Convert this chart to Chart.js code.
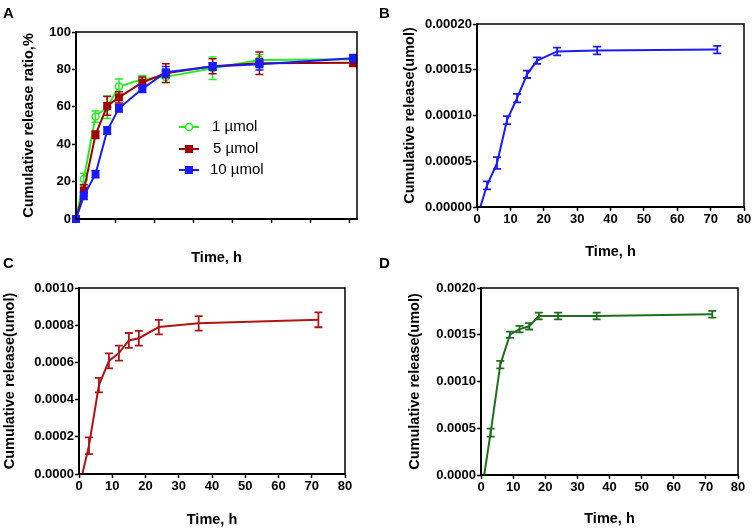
<!DOCTYPE html>
<html>
<head>
<meta charset="utf-8">
<script src="https://cdn.jsdelivr.net/npm/chart.js@4.4.1/dist/chart.umd.min.js"></script>
<style>
  html, body { margin: 0; padding: 0; background: #fff; }
  #fig { position: relative; width: 753px; height: 529px; overflow: hidden; font-family: "Liberation Sans", Arial, sans-serif; }
  .pane { position: absolute; }
  .tag { position: absolute; font-weight: bold; font-size: 15px; line-height: 15px; color: #000; z-index: 2; }
</style>
</head>
<body>
<div id="fig">
  <div class="pane" style="left:0;top:0;width:376px;height:264px"><canvas id="cA"></canvas></div>
  <div class="pane" style="left:376px;top:0;width:377px;height:264px"><canvas id="cB"></canvas></div>
  <div class="pane" style="left:0;top:264px;width:376px;height:265px"><canvas id="cC"></canvas></div>
  <div class="pane" style="left:376px;top:264px;width:377px;height:265px"><canvas id="cD"></canvas></div>
  <div class="tag" style="left:3px;top:5px">A</div>
  <div class="tag" style="left:379px;top:5px">B</div>
  <div class="tag" style="left:3px;top:255px">C</div>
  <div class="tag" style="left:379px;top:255px">D</div>
</div>
<script>
// --- panel A: release ratio (%) for three doses
const timeA = [0, 2, 5, 8, 11, 17, 23, 35, 47, 71];
const ratio1 = [0, 21.4, 54.8, 59.8, 70.8, 74.7, 76, 80.6, 85, 85.4];
const ratio1Err = [0, 3, 3, 6, 4, 2, 3, 6, 3, 2];
const ratio5 = [0, 15.3, 45, 60.5, 65, 73, 78, 81.7, 83.3, 83.6];
const ratio5Err = [0, 3, 2, 5, 3, 3, 5, 4, 6, 2];
const ratio10 = [0, 12.4, 24, 47.3, 59.2, 69.6, 78.5, 81.5, 82.7, 86];
const ratio10Err = [0, 2, 2, 2, 2, 2, 3, 2, 3, 2];
const legendA = ['1 µmol', '5 µmol', '10 µmol'];
const ticksA = [0, 20, 40, 60, 80, 100];

// --- panels B, C, D: cumulative release (umol)
const timeR = [1, 3, 6, 9, 12, 15, 18, 24, 36, 72];
const releaseB = [0, 0.0000237, 0.000048, 0.000095, 0.000119, 0.000145, 0.00016, 0.00017, 0.000171, 0.000172];
const releaseBErr = [0, 0.0000044, 0.0000064, 0.0000044, 0.0000046, 0.000004, 0.0000036, 0.0000042, 0.0000042, 0.0000042];
const releaseC = [0, 0.000152, 0.000478, 0.000608, 0.00065, 0.000718, 0.00073, 0.00079, 0.00081, 0.000829];
const releaseCErr = [0, 0.000045, 0.000039, 0.00004, 0.00004, 0.00004, 0.00004, 0.000039, 0.000039, 0.00004];
const releaseD = [0, 0.000454, 0.00118, 0.0015, 0.00156, 0.00159, 0.0017, 0.0017, 0.0017, 0.00172];
const releaseDErr = [0, 0.000043, 0.00004, 0.000034, 0.000034, 0.000034, 0.000036, 0.000036, 0.000036, 0.000036];
const ticksX = [0, 10, 20, 30, 40, 50, 60, 70, 80];

const FONT = '"Liberation Sans", Arial, sans-serif';
Chart.defaults.font.family = FONT;
Chart.defaults.color = '#000';

const pts = (xs, ys) => xs.map((x, i) => ({ x, y: ys[i] }));

// error bars drawn right after each dataset
const errorBars = {
  id: 'errorBars',
  afterDatasetDraw(chart, args) {
    const ds = chart.data.datasets[args.index];
    if (!ds.errors) return;
    const { ctx, scales: { x, y } } = chart;
    ctx.save();
    ctx.strokeStyle = ds.borderColor;
    ctx.lineWidth = ds.errWidth || 1.5;
    ds.data.forEach((p, i) => {
      const e = ds.errors[i];
      if (!e) return;
      const px = x.getPixelForValue(p.x);
      const top = y.getPixelForValue(p.y + e), bot = y.getPixelForValue(p.y - e);
      const c = ds.cap || 3;
      ctx.beginPath();
      ctx.moveTo(px, top); ctx.lineTo(px, bot);
      ctx.moveTo(px - c, top); ctx.lineTo(px + c, top);
      ctx.moveTo(px - c, bot); ctx.lineTo(px + c, bot);
      ctx.stroke();
    });
    ctx.restore();
  }
};

// closed frame round the plot area
const frame = {
  id: 'frame',
  afterDraw(chart) {
    const { ctx, chartArea: a } = chart;
    ctx.save();
    ctx.strokeStyle = '#000';
    ctx.lineWidth = 1.5;
    ctx.strokeRect(a.left, a.top, a.right - a.left, a.bottom - a.top);
    ctx.restore();
  }
};

// legend inside panel A
const legendInside = {
  id: 'legendInside',
  afterDraw(chart, args, o) {
    if (!o.rows) return;
    const { ctx } = chart;
    ctx.save();
    o.labels.forEach((lab, i) => {
      const ds = chart.data.datasets[i];
      const yy = o.rows[i];
      ctx.strokeStyle = ds.borderColor;
      ctx.lineWidth = 2;
      ctx.beginPath(); ctx.moveTo(o.x1, yy); ctx.lineTo(o.x2, yy); ctx.stroke();
      const mx = (o.x1 + o.x2) / 2;
      if (ds.pointStyle === 'circle') {
        ctx.beginPath(); ctx.arc(mx, yy, 3.5, 0, Math.PI * 2);
        ctx.fillStyle = '#fff'; ctx.fill(); ctx.lineWidth = 1.5; ctx.stroke();
      } else {
        ctx.fillStyle = ds.borderColor; ctx.fillRect(mx - 4, yy - 4, 8, 8);
      }
      ctx.fillStyle = '#000';
      ctx.font = '15px ' + FONT;
      ctx.textBaseline = 'middle';
      ctx.fillText(lab, o.tx[i], yy);
    });
    ctx.restore();
  }
};

function xAxis(opt) {
  return {
    type: 'linear', min: 0, max: opt.max,
    afterBuildTicks: s => { s.ticks = opt.ticks.map(v => ({ value: v })); },
    afterFit: s => { s.height = opt.h; },
    border: { display: true, color: '#000', width: 2 },
    grid: { display: true, drawOnChartArea: false, drawTicks: true, tickLength: 4, tickColor: '#000', tickWidth: 1.5 },
    ticks: { display: opt.labels, padding: 1, font: { size: 13, weight: 'bold' }, color: '#000', maxRotation: 0, autoSkip: false },
    title: { display: true, text: 'Time, h', font: { size: 14.5, weight: 'bold' }, color: '#000', padding: { top: 0, bottom: opt.tb } }
  };
}

function yAxis(opt) {
  return {
    min: 0, max: opt.max,
    afterBuildTicks: s => { s.ticks = opt.ticks.map(v => ({ value: v })); },
    afterFit: s => { s.width = opt.w; },
    border: { display: true, color: '#000', width: 2 },
    grid: { display: true, drawOnChartArea: false, drawTicks: true, tickLength: 4, tickColor: '#000', tickWidth: 1.5 },
    ticks: { padding: 1, font: { size: 13, weight: 'bold' }, color: '#000', callback: opt.fmt, autoSkip: false },
    title: { display: true, text: opt.title, font: { size: 14.5, weight: 'bold' }, color: '#000', padding: { top: opt.tp, bottom: 0 } }
  };
}

function baseOptions(pad, x, y, legend) {
  return {
    responsive: true, maintainAspectRatio: false, animation: false,
    layout: { padding: pad },
    plugins: { legend: { display: false }, tooltip: { enabled: false }, legendInside: legend || {} },
    scales: { x, y }
  };
}

// A
new Chart(document.getElementById('cA'), {
  type: 'line',
  data: {
    datasets: [
      { label: legendA[0], data: pts(timeA, ratio1), errors: ratio1Err, borderColor: '#22ee22', backgroundColor: '#fff',
        borderWidth: 2, pointStyle: 'circle', pointRadius: 3.5, pointBorderWidth: 1.5, tension: 0, clip: false, order: 3, cap: 4 },
      { label: legendA[1], data: pts(timeA, ratio5), errors: ratio5Err, borderColor: '#a00000', backgroundColor: '#a00000',
        borderWidth: 2, pointStyle: 'rect', pointRadius: 5.6, pointBorderWidth: 0, tension: 0, clip: false, order: 2, cap: 4 },
      { label: legendA[2], data: pts(timeA, ratio10), errors: ratio10Err, borderColor: '#1a1aff', backgroundColor: '#1a1aff',
        borderWidth: 2, pointStyle: 'rect', pointRadius: 5.6, pointBorderWidth: 0, tension: 0, clip: false, order: 1, cap: 4 }
    ]
  },
  options: baseOptions({ left: 0, top: 32, right: 19, bottom: 0 },
    xAxis({ max: 72, ticks: [10, 20, 30, 40, 50, 60, 70], labels: false, h: 45, tb: -2.2 }),
    yAxis({ max: 100, ticks: ticksA, w: 76, tp: 20.3, title: 'Cumulative release ratio,%', fmt: v => v }),
    { labels: legendA, rows: [127, 149, 170], x1: 179, x2: 199, tx: [212, 213, 210] }),
  plugins: [errorBars, frame, legendInside]
});

function releaseChart(id, data, err, color, o) {
  new Chart(document.getElementById(id), {
    type: 'line',
    data: { datasets: [{ data: pts(timeR, data), errors: err, borderColor: color, borderWidth: 2,
      pointRadius: 0, tension: 0, clip: false, cap: 4, errWidth: 1.8 }] },
    options: baseOptions(o.pad,
      xAxis({ max: 80, ticks: ticksX, labels: true, h: o.h, tb: o.tb }),
      yAxis({ max: o.max, ticks: o.ticks, w: o.w, tp: o.tp, title: 'Cumulative release(umol)', fmt: v => v.toFixed(o.dec) })),
    plugins: [errorBars, frame]
  });
}

releaseChart('cB', releaseB, releaseBErr, '#1a1aff', {
  pad: { left: 0, top: 24, right: 9, bottom: 0 }, h: 57, tb: 3.8, w: 101, tp: 25.3,
  max: 0.0002, ticks: [0, 0.00005, 0.0001, 0.00015, 0.0002], dec: 5 });
releaseChart('cC', releaseC, releaseCErr, '#b01515', {
  pad: { left: 0, top: 24, right: 31, bottom: 0 }, h: 55, tb: 0.8, w: 79, tp: 1.3,
  max: 0.001, ticks: [0, 0.0002, 0.0004, 0.0006, 0.0008, 0.001], dec: 4 });
releaseChart('cD', releaseD, releaseDErr, '#1e6e1e', {
  pad: { left: 0, top: 24, right: 15, bottom: 0 }, h: 54, tb: 1.3, w: 105, tp: 29.8,
  max: 0.002, ticks: [0, 0.0005, 0.001, 0.0015, 0.002], dec: 4 });
</script>
</body>
</html>
